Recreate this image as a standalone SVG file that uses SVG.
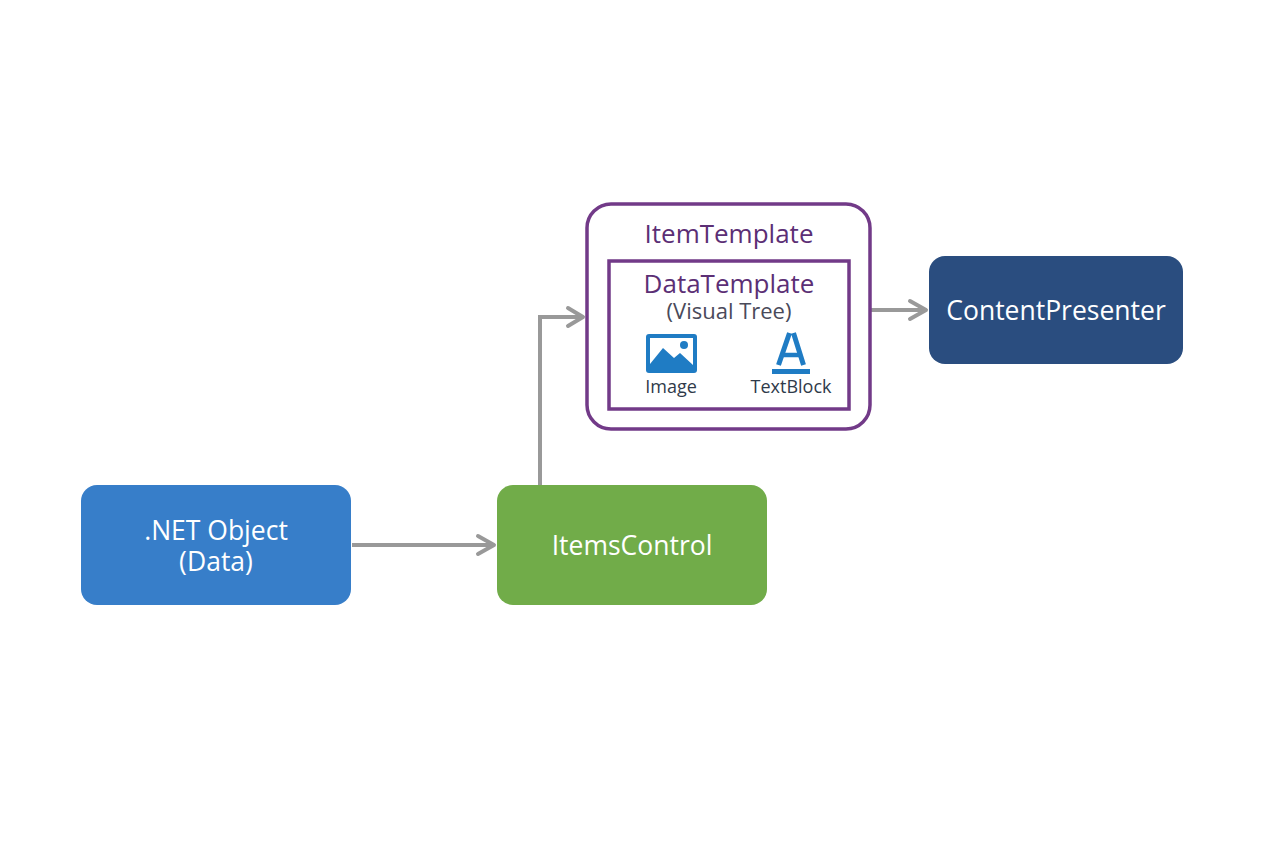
<svg xmlns="http://www.w3.org/2000/svg" width="1264" height="848" viewBox="0 0 1264 848">
<style>
text{font-family:"Open Sans","Noto Sans","Liberation Sans",sans-serif;text-anchor:middle}
.w{fill:#fff;font-size:26.5px;font-weight:500}
.p{fill:#5c2f75;font-size:26px;font-weight:500}
.d{fill:#2f3a4a;font-size:18px}
.c{fill:none;stroke:#999;stroke-width:4}
.a{fill:none;stroke:#999;stroke-width:4;stroke-linecap:round;stroke-linejoin:round}
.b{fill:#fff;stroke:#723a88;stroke-width:3.5}
.i{stroke:#1f7cc4;fill:none}
</style>
<rect width="1264" height="848" fill="#fff"/>
<g id="connectors">
<path class="c" d="M352 545H494"/><path class="a" d="M478 536L494 545L478 554"/>
<path class="c" d="M540 485V317H582"/><path class="a" d="M568 308L583 317L568 326"/>
<path class="c" d="M871 310H925"/><path class="a" d="M910 301L926 310L910 319"/>
</g>
<g id="net-object"><rect x="81" y="485" width="270" height="120" rx="16" fill="#377ec9"/><text class="w" x="216" y="539.500">.NET Object<tspan x="216" dy="31">(Data)</tspan></text></g>
<g id="items-control"><rect x="497" y="485" width="270" height="120" rx="16" fill="#71ac49"/><text class="w" x="632" y="554.500">ItemsControl</text></g>
<g id="item-template"><rect class="b" x="587" y="204" width="283" height="225" rx="24"/><text class="p" x="729" y="243">ItemTemplate</text></g>
<g id="data-template"><rect class="b" x="609" y="261" width="240" height="148"/><text class="p" x="729" y="293">DataTemplate<tspan x="729" dy="26" fill="#4a4a5a" font-size="22" font-weight="400">(Visual Tree)</tspan></text></g>
<g id="image"><rect x="646" y="334" width="51" height="39" rx="3" fill="#1f7cc4"/><rect x="650" y="338" width="43" height="28" fill="#fff"/><path d="M650 364L663 348L674 358L680 353L693 365V370H650Z" fill="#1f7cc4"/><circle cx="684" cy="345" r="4" fill="#1f7cc4"/><text class="d" x="671" y="393">Image</text></g>
<g id="text-block"><path class="i" stroke-width="5" d="M778.500 365L789.500 333M803.500 365L793.500 333"/><path class="i" stroke-width="4.500" d="M783 355H800"/><rect x="772" y="369" width="38" height="5" fill="#1f7cc4"/><text class="d" x="791" y="393">TextBlock</text></g>
<g id="content-presenter"><rect x="929" y="256" width="254" height="108" rx="16" fill="#2a4d7f"/><text class="w" x="1056" y="319.500">ContentPresenter</text></g>
</svg>
